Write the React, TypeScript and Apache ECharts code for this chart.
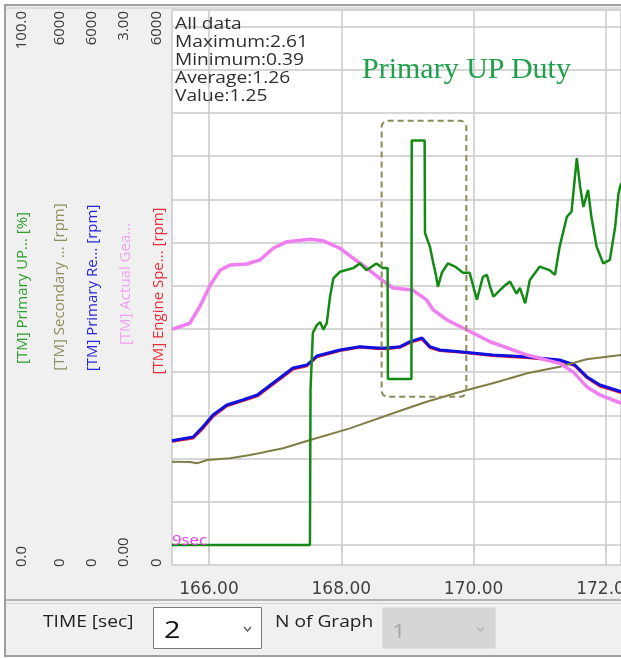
import React, { useEffect, useRef } from "react";
import * as echarts from "echarts";

// ---------- data ----------
const dutyTime = [165.44, 167.526, 167.535, 167.57, 167.63, 167.68, 167.73, 167.78, 167.83, 167.88, 167.98, 168.18, 168.28, 168.38, 168.53, 168.63, 168.70, 168.705, 169.06, 169.065, 169.26, 169.265, 169.34, 169.39, 169.43, 169.46, 169.52, 169.61, 169.72, 169.84, 169.94, 170.05, 170.14, 170.20, 170.25, 170.30, 170.45, 170.55, 170.65, 170.70, 170.78, 170.85, 171.00, 171.15, 171.23, 171.30, 171.41, 171.48, 171.56, 171.61, 171.66, 171.73, 171.78, 171.86, 171.96, 172.06, 172.14, 172.19, 172.23];
const dutyValue = [0, 0, 30.0, 40.9, 42.4, 43.0, 41.5, 42.8, 47.9, 51.4, 52.7, 53.4, 54.3, 53.0, 54.3, 53.4, 53.4, 32.0, 32.0, 78.0, 78.0, 60.2, 57.5, 54.4, 52.1, 49.8, 52.5, 54.3, 53.7, 52.5, 52.5, 47.3, 51.7, 52.1, 49.8, 47.9, 49.8, 50.8, 48.5, 49.6, 46.6, 51.1, 53.7, 53.0, 52.1, 57.5, 63.3, 64.3, 74.6, 69.1, 65.2, 68.5, 63.3, 57.5, 54.3, 55.0, 61.4, 67.8, 69.8];

const secondaryTime = [165.44, 165.71, 165.82, 165.97, 166.32, 166.62, 167.12, 167.53, 168.13, 168.89, 169.29, 169.79, 170.29, 170.81, 171.30, 171.71, 172.23];
const secondaryRpm = [964, 960, 945, 984, 1003, 1041, 1119, 1215, 1350, 1554, 1658, 1771, 1871, 1987, 2063, 2149, 2199];

const primaryTime = [165.44, 165.76, 165.91, 166.06, 166.27, 166.51, 166.73, 166.97, 167.27, 167.48, 167.63, 167.98, 168.28, 168.54, 168.69, 168.89, 169.04, 169.22, 169.34, 169.49, 169.79, 170.29, 170.81, 171.30, 171.53, 171.71, 171.91, 172.23];
const primaryRpm = [1207, 1250, 1369, 1504, 1620, 1678, 1736, 1875, 2048, 2083, 2187, 2257, 2295, 2280, 2280, 2295, 2353, 2395, 2295, 2257, 2237, 2199, 2176, 2141, 2083, 1948, 1852, 1774];

const engineTime = [165.44, 165.76, 165.91, 166.06, 166.27, 166.51, 166.73, 166.97, 167.27, 167.48, 167.63, 167.98, 168.28, 168.54, 168.69, 168.89, 169.04, 169.22, 169.34, 169.49, 169.79, 170.29, 170.81, 171.30, 171.53, 171.71, 171.91, 172.23];
const engineRpm = [1200, 1238, 1352, 1490, 1610, 1670, 1725, 1862, 2035, 2075, 2178, 2250, 2290, 2275, 2272, 2290, 2345, 2385, 2285, 2250, 2232, 2192, 2170, 2135, 2075, 1938, 1840, 1765];

const gearTime = [165.44, 165.71, 165.86, 166.02, 166.17, 166.32, 166.57, 166.77, 166.97, 167.18, 167.53, 167.72, 167.98, 168.18, 168.39, 168.58, 168.78, 169.08, 169.29, 169.39, 169.60, 169.90, 170.25, 170.81, 171.30, 171.50, 171.71, 171.91, 172.23];
const gearRatio = [1.248, 1.283, 1.379, 1.504, 1.591, 1.620, 1.626, 1.649, 1.717, 1.755, 1.769, 1.761, 1.717, 1.659, 1.601, 1.543, 1.487, 1.475, 1.418, 1.360, 1.302, 1.244, 1.176, 1.099, 1.051, 1.003, 0.916, 0.868, 0.820];

const axisNames = ["[TM] Primary UP... [%]", "[TM] Secondary ... [rpm]", "[TM] Primary Re... [rpm]", "[TM] Actual Gea...", "[TM] Engine Spe... [rpm]"];
const axisMax = [100, 6000, 6000, 3, 6000];
const axisTopLabels = ["100.0", "6000", "6000", "3.00", "6000"];
const axisBottomLabels = ["0.0", "0", "0", "0.00", "0"];
const xMin = 165.441;
const xMax = 172.228;

const statLines = ["All data", "Maximum:2.61", "Minimum:0.39", "Average:1.26", "Value:1.25"];
const titleText = "Primary UP Duty";
const windowText = "9sec";
const boxTime = [168.61, 169.89];
const boxDuty = [28.6, 81.8];
const timeLabel = "TIME [sec]";
const timeValue = "2";
const graphLabel = "N of Graph";
const graphValue = "1";

// ---------- styling ----------
const lineColors = { duty: "#138a13", secondary: "#7f7d45", primary: "#1010e0", gear: "#f07ef0", engine: "#ff1a1a" };
const nameColors = ["#2c9e2c", "#8f8f60", "#2525d6", "#f2a2f2", "#e8303c"];
const labelX = [20, 58, 90, 122, 155];
const nameX = [21, 58, 91, 124, 157];
const nameY = [288, 287, 288, 284, 291];

const PX_RANGE = 518.5; // pixels between 0 and max
const PX_BELOW = 20;
const PX_ABOVE = 16.5;

function pairs(t: number[], v: number[]) {
  return t.map((x, i) => [x, v[i]]);
}

function valueAxis(max: number) {
  return {
    type: "value",
    show: false,
    min: -max * PX_BELOW / PX_RANGE,
    max: max * (1 + PX_ABOVE / PX_RANGE),
    splitLine: { show: false },
  };
}

const gridLine = { color: "#c9c9c9", width: 1.5 };
const FONT = "Open Sans";

export default function App() {
  const ref = useRef<HTMLDivElement>(null);

  useEffect(() => {
    const chart = echarts.init(ref.current as HTMLDivElement, null, { renderer: "svg" });

    const divisions = 12;
    const graphics: any[] = [];

    // background panel and frame
    graphics.push({ type: "rect", id: "panel", z: -100, shape: { x: 5, y: 5, width: 620, height: 651 }, style: { fill: "#f0f0f0", stroke: "#9f9f9f", lineWidth: 2 } });
    graphics.push({ type: "line", id: "topInner", z: -99, shape: { x1: 6, y1: 8, x2: 621, y2: 8 }, style: { stroke: "#c8c8c8", lineWidth: 1 } });
    graphics.push({ type: "line", id: "sep1", z: 1, shape: { x1: 6, y1: 600, x2: 621, y2: 600 }, style: { stroke: "#a0a0a0", lineWidth: 1.5 } });
    graphics.push({ type: "line", id: "sep2", z: 1, shape: { x1: 6, y1: 603.5, x2: 621, y2: 603.5 }, style: { stroke: "#d4d4d4", lineWidth: 1 } });

    // left axis labels and names
    for (let i = 0; i < 5; i++) {
      graphics.push({
        type: "text", id: "top" + i, x: labelX[i], y: 11, rotation: Math.PI / 2,
        style: { text: axisTopLabels[i], fontSize: 15, fontFamily: FONT, fill: "#3c3c3c", textAlign: "right", textVerticalAlign: "middle" },
      });
      graphics.push({
        type: "text", id: "bot" + i, x: labelX[i], y: 567, rotation: Math.PI / 2,
        style: { text: axisBottomLabels[i], fontSize: 15, fontFamily: FONT, fill: "#3c3c3c", textAlign: "left", textVerticalAlign: "middle" },
      });
      graphics.push({
        type: "text", id: "name" + i, x: nameX[i], y: nameY[i], rotation: Math.PI / 2,
        style: { text: axisNames[i], fontSize: 15, fontFamily: FONT, fill: nameColors[i], textAlign: "center", textVerticalAlign: "middle" },
      });
    }

    // stats text
    statLines.forEach((s, i) => {
      graphics.push({
        type: "text", id: "stat" + i, z: 100, x: 175, y: 22.5 + i * 18.1, scaleX: 1.2,
        style: { text: s, fontSize: 16, fontFamily: FONT, fill: "#2e2e2e", textAlign: "left", textVerticalAlign: "middle" },
      });
    });

    graphics.push({
      type: "text", id: "title", z: 100, x: 362, y: 67,
      style: { text: titleText, fontSize: 30, fontFamily: "Liberation Serif", fill: "#1fa04c", textAlign: "left", textVerticalAlign: "middle" },
    });
    graphics.push({
      type: "text", id: "win", z: 100, x: 172, y: 540, scaleX: 1.2,
      style: { text: windowText, fontSize: 14, fontFamily: FONT, fill: "#e040e0", textAlign: "left", textVerticalAlign: "middle" },
    });

    // control bar
    graphics.push({ type: "text", id: "timeLbl", x: 43, y: 621, scaleX: 1.2, style: { text: timeLabel, fontSize: 16, fontFamily: FONT, fill: "#222", textAlign: "left", textVerticalAlign: "middle" } });
    graphics.push({ type: "rect", id: "combo1", shape: { x: 153.5, y: 607.5, width: 108, height: 41 }, style: { fill: "#ffffff", stroke: "#7a7a7a", lineWidth: 1 } });
    graphics.push({ type: "text", id: "comboVal1", x: 164, y: 629, scaleX: 1.2, style: { text: timeValue, fontSize: 24, fontFamily: FONT, fill: "#111", textAlign: "left", textVerticalAlign: "middle" } });
    graphics.push({ type: "polyline", id: "chev1", shape: { points: [[244, 627], [247.5, 631], [251, 627]] }, style: { stroke: "#555", lineWidth: 1.2, fill: "none" } });
    graphics.push({ type: "text", id: "graphLbl", x: 275, y: 621, scaleX: 1.2, style: { text: graphLabel, fontSize: 16, fontFamily: FONT, fill: "#222", textAlign: "left", textVerticalAlign: "middle" } });
    graphics.push({ type: "rect", id: "combo2", shape: { x: 383, y: 608, width: 112, height: 40 }, style: { fill: "#d6d6d6", stroke: "#d0d0d0", lineWidth: 1 } });
    graphics.push({ type: "text", id: "comboVal2", x: 392, y: 630, scaleX: 1.2, style: { text: graphValue, fontSize: 20, fontFamily: FONT, fill: "#a6a6a6", textAlign: "left", textVerticalAlign: "middle" } });
    graphics.push({ type: "polyline", id: "chev2", shape: { points: [[477, 627], [480.5, 631], [484, 627]] }, style: { stroke: "#b5b5b5", lineWidth: 1.2, fill: "none" } });

    const option: any = {
      animation: false,
      backgroundColor: "transparent",
      grid: { left: 172, right: 0, top: 10, bottom: 93, show: true, backgroundColor: "#ffffff", borderWidth: 0, containLabel: false, outerBoundsMode: "none" },
      xAxis: {
        type: "value",
        min: xMin,
        max: xMax,
        splitNumber: 3,
        axisLine: { show: false },
        axisTick: { show: true, length: 7, lineStyle: gridLine },
        splitLine: { show: true, lineStyle: gridLine },
        axisLabel: {
          showMinLabel: false, showMaxLabel: false, margin: 14, hideOverlap: false,
          fontSize: 17, fontFamily: "DejaVu Sans", color: "#404040",
          formatter: (v: number) => v.toFixed(2),
        },
      },
      yAxis: [
        {
          type: "value",
          min: -PX_BELOW / (PX_RANGE / divisions),
          max: divisions + PX_ABOVE / (PX_RANGE / divisions),
          splitNumber: divisions,
          axisLine: { show: false }, axisTick: { show: false }, axisLabel: { show: false },
          splitLine: { show: true, lineStyle: gridLine },
        },
        valueAxis(axisMax[0]),
        valueAxis(axisMax[1]),
        valueAxis(axisMax[2]),
        valueAxis(axisMax[3]),
        valueAxis(axisMax[4]),
      ],
      series: [
        { type: "line", name: axisNames[4], yAxisIndex: 5, data: pairs(engineTime, engineRpm), showSymbol: false, lineStyle: { color: lineColors.engine, width: 3 }, itemStyle: { color: lineColors.engine } },
        { type: "line", name: axisNames[2], yAxisIndex: 3, data: pairs(primaryTime, primaryRpm), showSymbol: false, lineStyle: { color: lineColors.primary, width: 3 }, itemStyle: { color: lineColors.primary } },
        { type: "line", name: axisNames[1], yAxisIndex: 2, data: pairs(secondaryTime, secondaryRpm), showSymbol: false, lineStyle: { color: lineColors.secondary, width: 2 }, itemStyle: { color: lineColors.secondary } },
        { type: "line", name: axisNames[3], yAxisIndex: 4, data: pairs(gearTime, gearRatio), showSymbol: false, lineStyle: { color: lineColors.gear, width: 3.5 }, itemStyle: { color: lineColors.gear } },
        { type: "line", name: axisNames[0], yAxisIndex: 1, data: pairs(dutyTime, dutyValue), showSymbol: false, lineStyle: { color: lineColors.duty, width: 2.5 }, itemStyle: { color: lineColors.duty } },
      ],
      graphic: { elements: graphics },
    };

    chart.setOption(option);

    const p1 = chart.convertToPixel({ seriesIndex: 4 }, [boxTime[0], boxDuty[1]]) as number[];
    const p2 = chart.convertToPixel({ seriesIndex: 4 }, [boxTime[1], boxDuty[0]]) as number[];
    chart.setOption({
      graphic: {
        elements: [
          {
            type: "rect", id: "box", z: 100,
            shape: { x: p1[0], y: p1[1], width: p2[0] - p1[0], height: p2[1] - p1[1], r: 6 },
            style: { fill: "none", stroke: "#8c8a55", lineWidth: 2, lineDash: [6, 4] },
          },
        ],
      },
    });

    return () => chart.dispose();
  }, []);

  return <div ref={ref} style={{ position: "fixed", left: 0, top: 0, width: 621, height: 658 }} />;
}
